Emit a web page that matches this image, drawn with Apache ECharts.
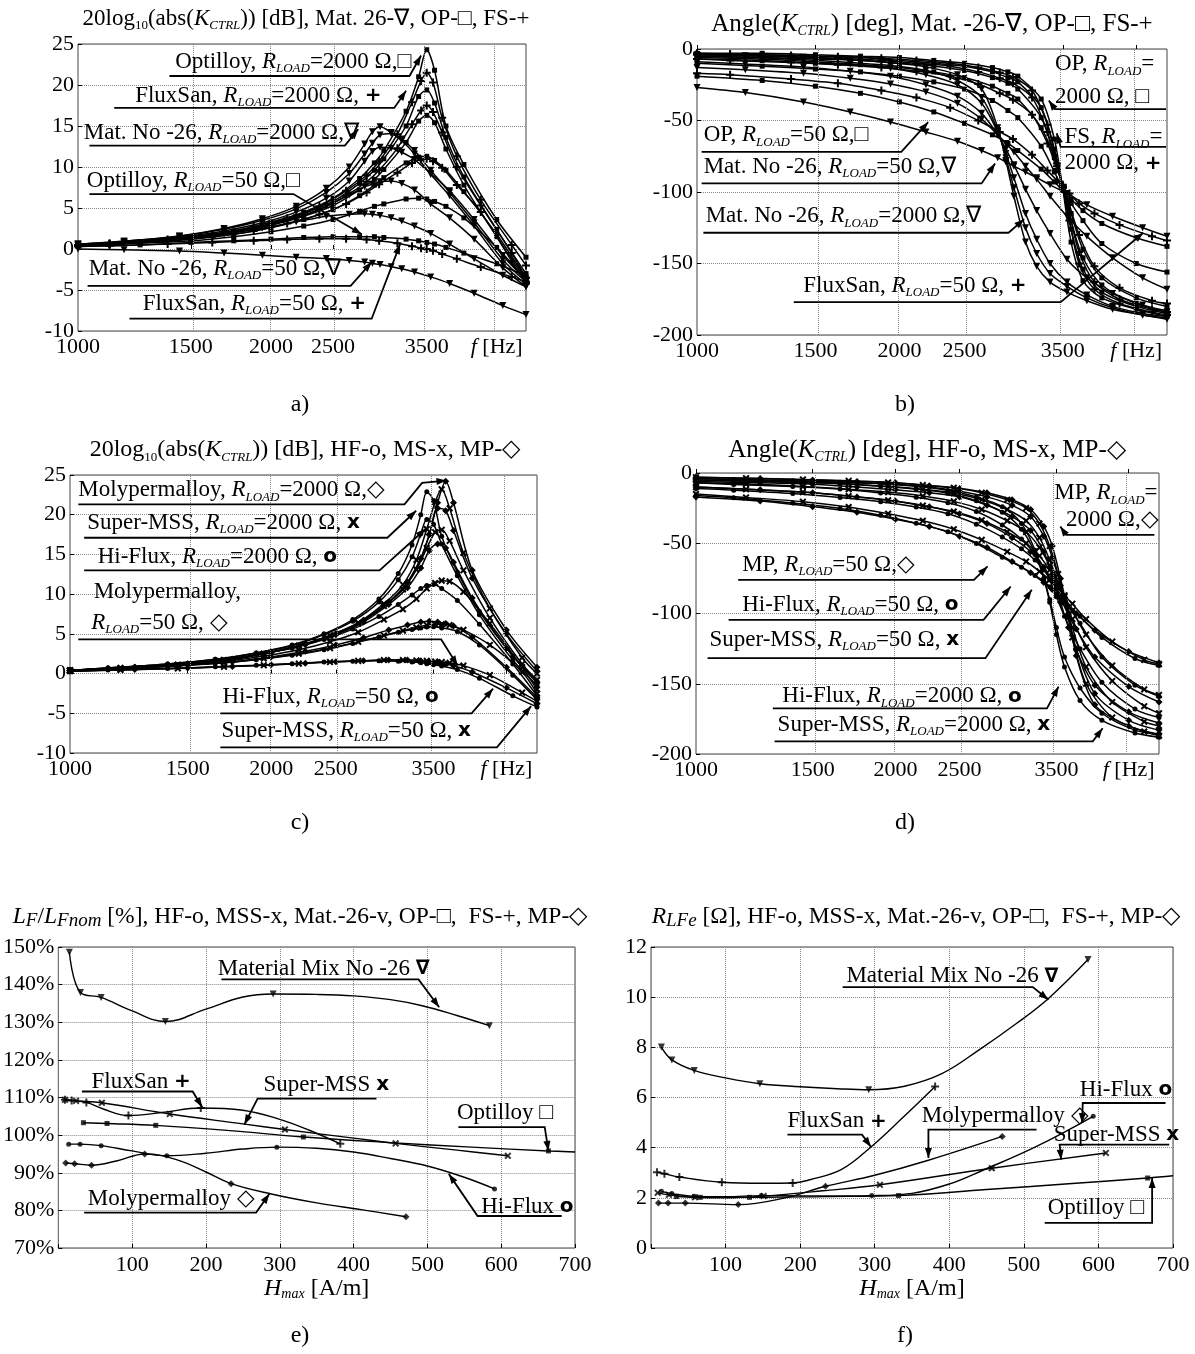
<!DOCTYPE html>
<html><head><meta charset="utf-8">
<script src="https://cdn.jsdelivr.net/npm/echarts@6/dist/echarts.min.js"></script>
<style>html,body{margin:0;padding:0;background:#fff}#c{width:1195px;height:1354px}</style>
</head><body><div id="c"></div>
<script>
// ---------------- DATA ----------------
// frequency points (Hz) at which each material's curves were read
const F_OP = [1000,1250,1500,1750,2000,2250,2500,2750,2900,3000,3250,3400,3500,3600,3750,4000,4500,5000];
const F_FS = [1000,1120,1380,1620,1880,2120,2380,2620,2820,2950,3150,3320,3430,3500,3580,3700,3900,4250,4750,5000];
const F_M26 = [1000,1180,1440,1690,1940,2190,2440,2650,2800,2880,2960,3080,3200,3350,3550,3800,4150,4600,5000];
const F_MP = [1000,1250,1500,1750,2000,2250,2500,2750,3000,3200,3350,3450,3550,3650,3750,4000,4500,5000];
const F_HF = [1000,1140,1400,1650,1900,2150,2400,2650,2900,3100,3250,3350,3420,3500,3600,3800,4100,4600,5000];
const F_MS = [1000,1190,1450,1700,1950,2200,2450,2700,2950,3150,3300,3420,3520,3600,3700,3880,4250,4750,5000];
const F_TICKS = [1000,1500,2000,2500,3500,4500];

// panel a: 20log10|K| [dB]
const A_OP2000 = [0.5,0.9,1.4,2.2,3.3,4.5,6.2,8.6,10.5,12,16.8,21,24.3,21.8,15,10.3,3.6,-1];
const A_OP_b = [0.5,0.9,1.4,2.1,3.1,4.3,5.8,8,9.6,11,15,18.6,19.4,17.8,13.6,8.8,2.4,-3];
const A_OP_c = [0.4,0.8,1.3,2,2.9,4,5.3,7.2,8.5,9.7,13,15.6,16.3,15.4,12.2,7.8,1.5,-3.8];
const A_OP_d = [0.4,0.8,1.2,1.8,2.6,3.6,4.8,6.5,7.8,8.7,10.5,11.2,11.3,10.8,9.6,7,1.8,-3.6];
const A_OP_e = [0.4,0.7,1,1.5,2.1,2.8,3.6,4.6,5.2,5.5,6.1,6.2,6.1,5.8,5.2,3.8,0.2,-3.8];
const A_OP50 = [0.3,0.5,0.8,1,1.2,1.4,1.5,1.5,1.5,1.4,1.2,1,0.8,0.6,0.2,-0.5,-1.8,-3.3];
const A_FS2000 = [0.5,0.7,1.15,1.8,2.7,3.75,5.2,7.1,9.0,10.7,14,17.9,20.5,21.5,20.3,16,11.3,6,0.5,-2];
const A_FS_b = [0.4,0.6,1.05,1.65,2.5,3.5,4.8,6.5,8.2,9.6,12.3,15.2,16.9,17.5,16.7,14.2,10,5.3,-0.5,-3.5];
const A_FS_d = [0.4,0.6,1.0,1.5,2.2,3.1,4.2,5.5,6.9,7.9,9.3,10.5,10.9,11,10.7,9.9,7.8,4.5,-1.5,-4.2];
const A_FS50 = [0.3,0.4,0.6,0.8,1.0,1.15,1.25,1.25,1.15,1.0,0.7,0.35,0.1,0,-0.2,-0.6,-1.2,-2.2,-3.4,-4];
const A_M2000 = [0.6,0.95,1.6,2.5,3.7,5.2,7.4,10,12.8,14.3,14.9,14.2,13.2,11.6,9.1,6.5,2.8,-1.8,-4.3];
const A_M_b = [0.6,0.95,1.55,2.4,3.5,4.9,6.9,9.2,11.6,12.9,13.9,14.1,13.4,12.0,9.6,6.9,3.2,-1.3,-4];
const A_M_c = [0.5,0.85,1.45,2.2,3.2,4.5,6.2,8.3,10.7,11.9,12.4,12.3,11.8,10.9,9.2,7.1,3.6,-0.8,-3.8];
const A_M_d = [0.5,0.8,1.3,1.95,2.8,3.8,5.2,6.6,7.6,7.9,8.2,8.3,8.0,7.2,5.5,3.8,1.2,-2.3,-4.6];
const A_M_e = [0.4,0.7,1.2,1.8,2.55,3.3,4.0,4.25,4.3,4.25,4.1,3.8,3.4,2.8,1.9,0.6,-1.2,-3.2,-4.6];
const A_M50 = [0,-0.1,-0.25,-0.5,-0.75,-1.0,-1.15,-1.4,-1.6,-1.75,-1.9,-2.15,-2.4,-2.8,-3.4,-4.2,-5.4,-6.9,-8];

// panel b: angle [deg]
const B_OP2000 = [-3,-3,-4,-5,-6,-8,-10,-13,-16,-19,-35,-63,-98,-135,-162,-174,-182,-187];
const B_OP_b = [-4,-4,-5,-6,-8,-10,-12,-16,-20,-23,-41,-70,-97,-126,-154,-170,-180,-185];
const B_OP_c = [-5,-6,-7,-8,-10,-12,-15,-20,-24,-28,-48,-75,-97,-120,-146,-165,-178,-183];
const B_OP_d = [-7,-8,-10,-11,-13,-16,-20,-26,-31,-35,-55,-76,-96,-115,-140,-160,-174,-180];
const B_OP_e = [-10,-12,-14,-16,-19,-23,-28,-36,-43,-48,-68,-86,-98,-108,-120,-136,-150,-156];
const B_OP50 = [-19,-22,-26,-31,-37,-44,-52,-60,-66,-71,-84,-93,-99,-105,-113,-122,-132,-138];
const B_FS2000 = [-3,-3.5,-4.5,-5.5,-6.5,-8,-10,-13,-16.5,-19.5,-29,-53,-80,-97,-120,-150,-168,-178,-184,-186];
const B_FS_b = [-4,-4.5,-5.5,-6.5,-8,-10,-12,-16,-20.5,-24,-34,-58,-82,-96,-115,-142,-163,-175,-182,-184];
const B_FS_d = [-7,-8,-9.5,-11,-13,-15.5,-19,-24.5,-31,-35.5,-46,-66,-84,-95,-109,-130,-152,-167,-176,-178];
const B_FS50 = [-17,-18,-21,-24,-29,-34,-41,-50,-58,-63,-74,-85,-92,-97,-101,-108,-115,-123,-131,-134];
const B_M2000 = [-4,-4.7,-5.8,-7.5,-9.5,-12.5,-18,-28,-55,-78,-103,-135,-152,-163,-170,-176,-182,-186,-189];
const B_M_b = [-5,-5.7,-7.5,-9.5,-11.5,-15,-22,-34,-57,-76,-97,-125,-143,-157,-166,-174,-181,-186,-188];
const B_M_c = [-6,-6.7,-8.5,-10.5,-13.5,-18,-25,-38,-58,-73,-90,-115,-133,-150,-163,-172,-180,-185,-187];
const B_M_d = [-9,-10.5,-12.5,-15.5,-19,-25,-33,-45,-60,-70,-81,-98,-113,-129,-147,-160,-171,-179,-184];
const B_M_e = [-13,-14.5,-17,-20.5,-24.5,-30,-38,-49,-60,-66,-72,-82,-91,-103,-117,-131,-146,-160,-168];
const B_M50 = [-27,-30.5,-37,-44,-51,-58,-64.5,-71,-76,-79,-82,-86,-90,-95,-101,-109,-117,-125,-131];

// panel c: 20log10|K| [dB]
const C_MP2000 = [0.4,0.8,1.2,1.8,2.7,3.7,5,6.7,9,11.5,14.5,17.5,21.5,24.2,21.5,13,5.5,0.8];
const C_MP_b = [0.4,0.8,1.2,1.8,2.7,3.7,5,6.7,9,11.5,14.5,17.5,20.8,20.5,18,12,5,0.3];
const C_MP_c = [0.4,0.8,1.2,1.8,2.7,3.7,4.9,6.5,8.7,10.8,13.3,15.5,16.3,15.8,14,9.5,3.2,-1.2];
const C_MP_d = [0.4,0.7,1.1,1.5,2.1,2.8,3.6,4.5,5.5,6.1,6.5,6.6,6.5,6.3,6,4.6,0.8,-3];
const C_MP50 = [0.3,0.5,0.7,0.9,1.1,1.3,1.5,1.6,1.7,1.7,1.6,1.5,1.4,1.2,1,0.2,-1.8,-3.8];
const C_MS2000 = [0.4,0.7,1.1,1.7,2.5,3.5,4.8,6.4,8.8,11.2,14.3,18.2,21.6,23.2,20.8,15.2,8.2,2,0];
const C_MS_b = [0.4,0.7,1.1,1.7,2.5,3.5,4.8,6.3,8.5,10.6,13.1,15.8,17.8,18.1,16.7,13,7,1.2,-0.8];
const C_MS_c = [0.4,0.65,1.0,1.5,2.2,3.0,4.0,5.2,6.8,8.1,9.4,10.7,11.4,11.7,11.6,10.3,6.3,0.8,-2];
const C_MS_d = [0.4,0.6,0.95,1.35,1.9,2.5,3.2,4.0,4.8,5.4,5.8,6.1,6.2,6.2,6.1,5.5,3.6,0.2,-2.5];
const C_MS50 = [0.3,0.45,0.65,0.85,1.05,1.25,1.45,1.6,1.7,1.7,1.65,1.6,1.5,1.45,1.35,1.0,-0.2,-2.4,-3.5];
const C_HF2000 = [0.4,0.7,1.2,1.8,2.6,3.6,5.0,6.8,9.4,12.6,16.2,20,22.9,21.8,17.3,12.8,7.8,2.2,-1];
const C_HF_b = [0.4,0.7,1.2,1.8,2.6,3.5,4.9,6.6,9.0,11.8,14.7,17.6,19.4,18.8,16.3,12.3,7.4,1.7,-1.5];
const C_HF_c = [0.4,0.7,1.1,1.65,2.4,3.2,4.3,5.6,7.2,8.7,9.9,10.7,11.1,11.2,10.7,9.2,6.2,1.2,-2.8];
const C_HF_d = [0.4,0.6,0.95,1.3,1.75,2.3,3.0,3.8,4.6,5.2,5.55,5.75,5.85,5.9,5.75,5.3,3.6,-0.2,-3.3];
const C_HF50 = [0.3,0.45,0.65,0.85,1.05,1.25,1.45,1.55,1.6,1.55,1.45,1.35,1.25,1.1,0.95,0.5,-0.6,-2.8,-4.2];

// panel d: angle [deg]
const D_MP2000 = [-3,-4,-5,-6,-7,-9,-11,-14,-19,-26,-38,-52,-75,-100,-130,-165,-180,-186];
const D_MP_b = [-4,-5,-6,-7,-8,-10,-13,-17,-23,-31,-45,-60,-80,-103,-125,-157,-176,-183];
const D_MP_c = [-6,-7,-8,-10,-12,-14,-17,-23,-31,-41,-56,-72,-92,-110,-126,-151,-170,-178];
const D_MP_d = [-10,-12,-14,-17,-20,-24,-29,-36,-46,-56,-67,-77,-89,-101,-111,-131,-152,-163];
const D_MP50 = [-17,-20,-24,-28,-33,-38,-45,-53,-63,-71,-78,-83,-89,-95,-100,-112,-127,-135];
const D_MS2000 = [-3,-3.7,-4.6,-5.6,-6.7,-8.6,-10.5,-14,-19,-25,-36,-52,-72,-90,-117,-150,-174,-184,-187];
const D_MS_b = [-5,-5.8,-6.8,-7.8,-9.6,-11.6,-14.4,-19,-26,-34,-46,-62,-78,-92,-110,-138,-163,-177,-180];
const D_MS_c = [-7,-7.8,-9.6,-11.6,-13.6,-16.4,-20.2,-26,-34,-42,-53,-66,-78,-90,-104,-124,-148,-166,-171];
const D_MS_d = [-10,-11.6,-13.6,-16.4,-19.4,-23.2,-27.4,-33.6,-42,-50,-59,-69,-79,-88,-98,-115,-137,-154,-158];
const D_MS50 = [-15,-17.4,-20.4,-24.2,-29,-34,-40,-47.6,-56,-63,-70,-76,-82,-87,-93,-104,-120,-133,-136];
const D_HF2000 = [-4,-4.6,-5.6,-6.6,-7.6,-9.5,-12.4,-17,-24,-36,-55,-75,-92,-115,-138,-162,-176,-185,-188];
const D_HF_b = [-5,-5.6,-6.6,-7.6,-9.4,-11.5,-14.4,-19.8,-28,-40,-57,-75,-90,-110,-131,-153,-171,-183,-186];
const D_HF_c = [-7,-8.2,-9.6,-11.4,-14.2,-17.2,-21.2,-27.4,-37,-47,-58,-67,-76,-88,-102,-125,-149,-168,-174];
const D_HF_d = [-11,-12.2,-14.6,-17.4,-20.4,-24.2,-29,-36.4,-45.6,-54,-62,-69,-75,-82,-91,-107,-131,-151,-159];
const D_HF50 = [-16,-17.6,-21.4,-25.2,-30,-35.8,-41.8,-50.2,-60,-67,-73,-77,-81,-86,-91,-102,-117,-132,-137];

// panel e: LF/LFnom [%] vs Hmax [A/m]; curve points and measured markers
const E_MAT26 = [[15,148.6],[30,137.9],[58,136.6],[100,133],[145,130.2],[200,133.5],[250,136.7],[291,137.5],[350,137.4],[400,137],[450,136],[493,134.4],[540,131.8],[584,129.1]];
const E_MAT26_M = [[15,148.6],[30,137.9],[58,136.6],[145,130.2],[291,137.5],[584,129.1]];
const E_FS = [[9,109.4],[18,109.2],[38,108.7],[60,107],[95,105.2],[140,106],[193,107.2],[250,106.6],[300,104.2],[340,101.3],[382,97.7]];
const E_FS_M = [[9,109.4],[18,109.2],[38,108.7],[95,105.2],[193,107.2],[382,97.7]];
const E_MSS = [[9,109.4],[24,109.1],[59,108.6],[151,105.6],[250,103],[307,101.5],[400,99.2],[457,97.8],[540,96],[609,94.5]];
const E_MSS_M = [[9,109.4],[24,109.1],[59,108.6],[151,105.6],[307,101.5],[457,97.8],[609,94.5]];
const E_OP = [[34,103.3],[66,103.1],[132,102.6],[232,101.2],[332,99.5],[450,98],[560,96.8],[664,95.8],[700,95.5]];
const E_OP_M = [[34,103.3],[66,103.1],[132,102.6],[332,99.5],[664,95.8]];
const E_HF = [[14,97.6],[29.5,97.6],[58,97.2],[100,95.8],[147,94.5],[200,95.2],[250,96.3],[296,96.8],[350,96.5],[400,95.5],[450,93.8],[500,91.8],[550,88.8],[591,85.7]];
const E_HF_M = [[14,97.6],[29.5,97.6],[58,97.2],[147,94.5],[296,96.8],[591,85.7]];
const E_MP = [[10,92.6],[22,92.4],[45,92],[80,93.2],[117,95],[160,93.5],[200,90.2],[234,87.1],[290,84.3],[350,82],[410,80.2],[471,78.3]];
const E_MP_M = [[10,92.6],[22,92.4],[45,92],[117,95],[234,87.1],[471,78.3]];

// panel f: RLFe [Ohm] vs Hmax [A/m]
const R_MAT26 = [[14,8.01],[28,7.5],[58,7.08],[100,6.78],[146,6.55],[200,6.43],[250,6.35],[292,6.31],[340,6.45],[390,6.95],[440,7.9],[490,8.95],[533,9.95],[586,11.5]];
const R_MAT26_M = [[14,8.01],[28,7.5],[58,7.08],[146,6.55],[292,6.31],[586,11.5]];
const R_FS = [[8,3.02],[18,2.96],[38,2.83],[95,2.62],[150,2.58],[190,2.59],[213,2.72],[255,3.12],[295,4.03],[337,5.18],[381,6.44]];
const R_FS_M = [[8,3.02],[18,2.96],[38,2.83],[95,2.62],[190,2.59],[381,6.44]];
const R_MP = [[10,1.79],[23,1.79],[46,1.79],[117,1.73],[180,2.0],[234,2.46],[300,2.9],[372,3.5],[471,4.45]];
const R_MP_M = [[10,1.79],[23,1.79],[46,1.79],[117,1.73],[234,2.46],[471,4.45]];
const R_HF = [[14,2.26],[28,2.17],[58,2.06],[100,2.05],[148,2.09],[200,2.08],[250,2.08],[296,2.09],[350,2.18],[400,2.55],[445,3.1],[517,4.05],[593,5.25]];
const R_HF_M = [[14,2.26],[28,2.17],[58,2.06],[148,2.09],[296,2.09],[593,5.25]];
const R_MSS = [[9,2.2],[24,2.12],[59,2.02],[100,2.0],[151,2.07],[230,2.28],[307,2.52],[457,3.18],[610,3.79]];
const R_MSS_M = [[9,2.2],[24,2.12],[59,2.02],[151,2.07],[307,2.52],[457,3.18],[610,3.79]];
const R_OP = [[34,2.05],[66,2.02],[132,2.02],[232,2.05],[332,2.09],[450,2.33],[560,2.56],[666,2.79],[700,2.88]];
const R_OP_M = [[34,2.05],[66,2.02],[132,2.02],[332,2.09],[666,2.79]];

// ---------------- STYLE / LAYOUT ----------------
const FONT = "'Liberation Serif','Times New Roman',serif";
const PLUS = 'path://M3,0h2v3h3v2h-3v3h-2v-3h-3v-2h3z';
const SYM = {
  OP:{symbol:'rect',size:5,rot:0}, FS:{symbol:PLUS,size:8,rot:0}, M26:{symbol:'triangle',size:7,rot:180},
  HF:{symbol:'circle',size:5,rot:0}, MS:{symbol:PLUS,size:8,rot:45}, MP:{symbol:'diamond',size:7,rot:0}
};
const GRIDS = [
  {left:78, top:44, width:448, height:287},
  {left:697, top:49, width:470, height:286},
  {left:70, top:475, width:467, height:278},
  {left:696, top:473, width:463, height:281},
  {left:55, top:947, width:520, height:301},
  {left:651, top:947, width:522, height:301}
];
const LBL = 22;
const GRIDLINE = {type:'dotted', color:'#888', width:1};

function freqLine(g, freqs, vals, mk){
  const s = SYM[mk];
  return {type:'line', xAxisIndex:g, yAxisIndex:g, data:freqs.map((f,i)=>[Math.log10(f), vals[i]]),
    smooth:0.3, symbol:s.symbol, symbolSize:s.size, symbolRotate:s.rot, showSymbol:true, silent:true,
    lineStyle:{color:'#000', width:1.5}, itemStyle:{color:'#000'}, animation:false, z:3};
}
function freqGridLines(g){
  return {type:'line', xAxisIndex:g, yAxisIndex:g, data:[[3, null]], symbol:'none', silent:true, animation:false, z:1,
    markLine:{silent:true, symbol:'none', animation:false, label:{show:false}, lineStyle:GRIDLINE,
      data:F_TICKS.slice(1).map(f=>({xAxis:Math.log10(f)}))}};
}
function hCurve(g, pts, marks, mk){
  const s = SYM[mk];
  return [
    {type:'line', xAxisIndex:g, yAxisIndex:g, data:pts, smooth:0.4, symbol:'none', silent:true,
     lineStyle:{color:'#000', width:1.4}, animation:false, z:3},
    {type:'scatter', xAxisIndex:g, yAxisIndex:g, data:marks, symbol:s.symbol, symbolSize:s.size, symbolRotate:s.rot,
     itemStyle:{color:'#000'}, silent:true, animation:false, z:4}
  ];
}
const labelRich = {
  i:{fontFamily:FONT, fontStyle:'italic', fontSize:LBL, color:'#000'},
  s:{fontFamily:FONT, fontStyle:'italic', fontSize:13, color:'#000', verticalAlign:'bottom', lineHeight:13},
  j:{fontFamily:FONT, fontStyle:'italic', fontSize:24, color:'#000'},
  t:{fontFamily:FONT, fontStyle:'italic', fontSize:14, color:'#000', verticalAlign:'bottom', lineHeight:14},
  n:{fontFamily:FONT, fontSize:24, color:'#000'}
};
function logX(g){
  const cv = F_TICKS.map(v=>Math.log10(v));
  return {type:'value', gridIndex:g, min:3, max:Math.log10(5000),
    axisLine:{show:false},
    axisTick:{show:true, inside:true, length:4, customValues:cv, lineStyle:{color:'#000'}},
    splitLine:{show:false},
    axisLabel:{customValues:cv, margin:5, fontFamily:FONT, fontSize:LBL, color:'#000', rich:labelRich,
      formatter:v=>{const f=Math.round(Math.pow(10,v)/10)*10; return f===4500 ? '{i|f} [Hz]' : String(f);}}};
}
function yAx(g, min, max, step, fmt){
  return {type:'value', gridIndex:g, min, max, interval:step,
    axisLine:{show:false},
    axisTick:{show:true, inside:true, length:4, lineStyle:{color:'#000'}},
    splitLine:{show:true, lineStyle:GRIDLINE},
    axisLabel:{margin:4, fontFamily:FONT, fontSize:LBL, color:'#000', formatter:fmt||'{value}'}};
}
function hX(g){
  return {type:'value', gridIndex:g, min:0, max:700, interval:100,
    axisLine:{show:false},
    axisTick:{show:true, inside:true, length:4, lineStyle:{color:'#000'}},
    splitLine:{show:true, lineStyle:GRIDLINE},
    axisLabel:{margin:6, fontFamily:FONT, fontSize:LBL, color:'#000', formatter:v=> v===0?'':String(v)},
    name:'{j|H}{t|max}{n| [A/m]}', nameLocation:'middle', nameGap:25,
    nameTextStyle:{fontFamily:FONT, fontSize:24, color:'#000', rich:labelRich}};
}

const series = [];
[0,1,2,3].forEach(g=>series.push(freqGridLines(g)));
[[F_OP,A_OP2000,'OP'],[F_OP,A_OP_b,'OP'],[F_OP,A_OP_c,'OP'],[F_OP,A_OP_d,'OP'],[F_OP,A_OP_e,'OP'],[F_OP,A_OP50,'OP'],
 [F_FS,A_FS2000,'FS'],[F_FS,A_FS_b,'FS'],[F_FS,A_FS_d,'FS'],[F_FS,A_FS50,'FS'],
 [F_M26,A_M2000,'M26'],[F_M26,A_M_b,'M26'],[F_M26,A_M_c,'M26'],[F_M26,A_M_d,'M26'],[F_M26,A_M_e,'M26'],[F_M26,A_M50,'M26']]
 .forEach(([f,v,m])=>series.push(freqLine(0,f,v,m)));
[[F_OP,B_OP2000,'OP'],[F_OP,B_OP_b,'OP'],[F_OP,B_OP_c,'OP'],[F_OP,B_OP_d,'OP'],[F_OP,B_OP_e,'OP'],[F_OP,B_OP50,'OP'],
 [F_FS,B_FS2000,'FS'],[F_FS,B_FS_b,'FS'],[F_FS,B_FS_d,'FS'],[F_FS,B_FS50,'FS'],
 [F_M26,B_M2000,'M26'],[F_M26,B_M_b,'M26'],[F_M26,B_M_c,'M26'],[F_M26,B_M_d,'M26'],[F_M26,B_M_e,'M26'],[F_M26,B_M50,'M26']]
 .forEach(([f,v,m])=>series.push(freqLine(1,f,v,m)));
[[F_MP,C_MP2000,'MP'],[F_MP,C_MP_b,'MP'],[F_MP,C_MP_c,'MP'],[F_MP,C_MP_d,'MP'],[F_MP,C_MP50,'MP'],
 [F_MS,C_MS2000,'MS'],[F_MS,C_MS_b,'MS'],[F_MS,C_MS_c,'MS'],[F_MS,C_MS_d,'MS'],[F_MS,C_MS50,'MS'],
 [F_HF,C_HF2000,'HF'],[F_HF,C_HF_b,'HF'],[F_HF,C_HF_c,'HF'],[F_HF,C_HF_d,'HF'],[F_HF,C_HF50,'HF']]
 .forEach(([f,v,m])=>series.push(freqLine(2,f,v,m)));
[[F_MP,D_MP2000,'MP'],[F_MP,D_MP_b,'MP'],[F_MP,D_MP_c,'MP'],[F_MP,D_MP_d,'MP'],[F_MP,D_MP50,'MP'],
 [F_MS,D_MS2000,'MS'],[F_MS,D_MS_b,'MS'],[F_MS,D_MS_c,'MS'],[F_MS,D_MS_d,'MS'],[F_MS,D_MS50,'MS'],
 [F_HF,D_HF2000,'HF'],[F_HF,D_HF_b,'HF'],[F_HF,D_HF_c,'HF'],[F_HF,D_HF_d,'HF'],[F_HF,D_HF50,'HF']]
 .forEach(([f,v,m])=>series.push(freqLine(3,f,v,m)));
series.push(...hCurve(4,E_MAT26,E_MAT26_M,'M26'), ...hCurve(4,E_FS,E_FS_M,'FS'), ...hCurve(4,E_MSS,E_MSS_M,'MS'),
  ...hCurve(4,E_OP,E_OP_M,'OP'), ...hCurve(4,E_HF,E_HF_M,'HF'), ...hCurve(4,E_MP,E_MP_M,'MP'));
series.push(...hCurve(5,R_MAT26,R_MAT26_M,'M26'), ...hCurve(5,R_FS,R_FS_M,'FS'), ...hCurve(5,R_MSS,R_MSS_M,'MS'),
  ...hCurve(5,R_OP,R_OP_M,'OP'), ...hCurve(5,R_HF,R_HF_M,'HF'), ...hCurve(5,R_MP,R_MP_M,'MP'));

const chart = echarts.init(document.getElementById('c'), null, {renderer:'canvas'});
chart.setOption({
  backgroundColor:'#fff', animation:false,
  grid: GRIDS.map(g=>Object.assign({show:true, borderColor:'#444', borderWidth:1, backgroundColor:'transparent', containLabel:false}, g)),
  xAxis:[logX(0), logX(1), logX(2), logX(3), hX(4), hX(5)],
  yAxis:[yAx(0,-10,25,5), yAx(1,-200,0,50), yAx(2,-10,25,5), yAx(3,-200,0,50),
         yAx(4,70,150,10,'{value}%'), yAx(5,0,12,2)],
  series
});

// ---------------- ANNOTATIONS (text anchors / leaders in data units) ----------------
const RL = '{i|R}{s|LOAD}';
const ANN = [
  {g:0, t:'Optilloy, '+RL+'=2000 Ω,□', at:[1418,22.8], ln:[[1389,21.1],[3290,21.1],[3430,23.6]]},
  {g:0, t:'FluxSan, '+RL+'=2000 Ω, {m|+}', at:[1228,18.7], ln:[[1139,17.2],[3115,17.2],[3250,19.3]]},
  {g:0, t:'Mat. No -26, '+RL+'=2000 Ω,∇', at:[1021,14.2], ln:[[1042,12.6],[2608,12.6],[2737,14.6]]},
  {g:0, t:'Optilloy, '+RL+'=50 Ω,□', at:[1032,8.3], ln:[[1042,6.7],[2168,6.7],[2772,1.8]]},
  {g:0, t:'Mat. No -26, '+RL+'=50 Ω,∇', at:[1039,-2.4], ln:[[1035,-4.5],[2663,-4.5],[2872,-1.6]]},
  {g:0, t:'FluxSan, '+RL+'=50 Ω, {m|+}', at:[1262,-6.7], ln:[[1203,-8.5],[2872,-8.5],[3181,0.6]]},

  {g:1, t:'OP, '+RL+'=', at:[3407,-10.8]},
  {g:1, t:'2000 Ω, □', at:[3407,-33.5]},
  {g:1, ln:[[4983,-42],[3407,-42],[3336,-36]]},
  {g:1, t:'FS, '+RL+'=', at:[3519,-61.6]},
  {g:1, t:'2000 Ω, {m|+}', at:[3519,-80]},
  {g:1, ln:[[4983,-68.5],[3474,-68.5],[3428,-59]]},
  {g:1, t:'OP, '+RL+'=50 Ω,□', at:[1023,-60.4], ln:[[1016,-72],[2013,-72],[2207,-51.2]]},
  {g:1, t:'Mat. No -26, '+RL+'=50 Ω,∇', at:[1023,-82.4], ln:[[1016,-94],[2650,-94],[2775,-80]]},
  {g:1, t:'Mat. No -26, '+RL+'=2000 Ω,∇', at:[1030,-117], ln:[[1022,-128.5],[2906,-128.5],[3066,-119]]},
  {g:1, t:'FluxSan, '+RL+'=50 Ω, {m|+}', at:[1439,-165.4], ln:[[1393,-177],[3474,-177],[4610,-128.5]]},

  {g:2, t:'Molypermalloy, '+RL+'=2000 Ω,◇', at:[1029,23.1], ln:[[1029,21.3],[3167,21.3],[3365,24],[3660,24.3]]},
  {g:2, t:'Super-MSS, '+RL+'=2000 Ω, {m|x}', at:[1061,19], ln:[[1050,17.1],[2985,17.1],[3297,20.5]]},
  {g:2, t:'Hi-Flux, '+RL+'=2000 Ω, {m|o}', at:[1100,14.7], ln:[[1050,13],[2906,13],[3405,18.2]]},
  {g:2, t:'Molypermalloy,', at:[1085,10.3]},
  {g:2, t:RL+'=50 Ω, ◇', at:[1076,6.4], ln:[[1029,4.3],[3594,4.3],[3804,1.0]]},
  {g:2, t:'Hi-Flux, '+RL+'=50 Ω, {m|o}', at:[1691,-2.9], ln:[[1679,-5],[3991,-5],[4297,-1.9]]},
  {g:2, t:'Super-MSS, '+RL+'=50 Ω, {m|x}', at:[1685,-7.2], ln:[[1679,-9.3],[4355,-9.3],[4900,-4.1]]},

  {g:3, t:'MP, '+RL+'=', at:[3475,-14.3]},
  {g:3, t:'2000 Ω,◇', at:[3620,-33.3]},
  {g:3, ln:[[4920,-44],[3620,-44],[3548,-38]]},
  {g:3, t:'MP, '+RL+'=50 Ω,◇', at:[1174,-65.3], ln:[[1158,-76],[2628,-76],[2755,-66.5]]},
  {g:3, t:'Hi-Flux, '+RL+'=50 Ω, {m|o}', at:[1174,-93.8], ln:[[1120,-104.5],[2717,-104.5],[2986,-80.8]]},
  {g:3, t:'Super-MSS, '+RL+'=50 Ω, {m|x}', at:[1048,-118.8], ln:[[1041,-131.8],[2735,-131.8],[3213,-83.1]]},
  {g:3, t:'Hi-Flux, '+RL+'=2000 Ω, {m|o}', at:[1350,-159], ln:[[1306,-167.5],[3387,-167.5],[3527,-152]]},
  {g:3, t:'Super-MSS, '+RL+'=2000 Ω, {m|x}', at:[1328,-179.3], ln:[[1314,-191],[3972,-191],[4110,-181.7]]},

  {g:4, t:'Material Mix No -26 {m|∇}', at:[216,144.2], ln:[[221,141.4],[488,141.4],[516,134]]},
  {g:4, t:'FluxSan {m|+}', at:[45,114.1], ln:[[32,111.6],[182,111.6],[195,107.4]]},
  {g:4, t:'Super-MSS {m|x}', at:[278,113.4], ln:[[431,109.7],[270,109.7],[252,102.8]]},
  {g:4, t:'Optilloy □', at:[540,105.9], ln:[[542,102.1],[659,102.1],[664,95.8]]},
  {g:4, t:'Molypermalloy ◇', at:[40,83.1], ln:[[35,79.4],[268,79.4],[286,84.4]]},
  {g:4, t:'Hi-Flux {m|o}', at:[573,80.9], ln:[[682,78.5],[568,78.5],[529,89.7]]},

  {g:5, t:'Material Mix No -26 {m|∇}', at:[262,10.83], ln:[[257,10.4],[512,10.4],[533,9.9]]},
  {g:5, t:'FluxSan {m|+}', at:[183,5.05], ln:[[183,4.52],[283,4.52],[295,4.03]]},
  {g:5, t:'Molypermalloy ◇', at:[363,5.25], ln:[[517,4.72],[372,4.72],[372,3.59]]},
  {g:5, t:'Hi-Flux {m|o}', at:[575,6.29], ln:[[690,5.78],[579,5.78],[578,4.98]]},
  {g:5, t:'Super-MSS {m|x}', at:[540,4.52], ln:[[695,4.12],[548,4.12],[550,3.52]]},
  {g:5, t:'Optilloy □', at:[532,1.59], ln:[[528,1.0],[672,1.0],[672,2.79]]}
];

function zrRich(size){
  const sub = Math.round(size*0.56);
  return {
    i:{fontFamily:FONT, fontStyle:'italic', fontSize:size, fill:'#000', lineHeight:size+4},
    s:{fontFamily:FONT, fontStyle:'italic', fontSize:sub, fill:'#000', verticalAlign:'bottom', lineHeight:sub},
    n:{fontFamily:FONT, fontSize:sub, fill:'#000', verticalAlign:'bottom', lineHeight:sub},
    f:{fontFamily:FONT, fontStyle:'italic', fontSize:Math.round(size*0.8), fill:'#000', verticalAlign:'bottom', lineHeight:Math.round(size*0.8)},
    m:{fontFamily:"'DejaVu Sans',sans-serif", fontWeight:'bold', fontSize:size-3, fill:'#000', lineHeight:size+4}
  };
}
function txt(x, y, text, size, align){
  return {type:'text', x, y, z:20, silent:true,
    style:{text, rich:zrRich(size), fontFamily:FONT, fontSize:size, lineHeight:size+4, fill:'#000',
      align:align||'left', textAlign:align||'left', verticalAlign:'middle', textVerticalAlign:'middle'}};
}
function px(g, x, y){ return chart.convertToPixel({gridIndex:g}, [g<4 ? Math.log10(x) : x, y]); }

const els = [];
// titles
els.push(txt(306, 19, '20log{n|10}(abs({i|K}{s|CTRL})) [dB], Mat. 26-∇, OP-□, FS-+', 23, 'center'));
els.push(txt(932, 24, 'Angle({i|K}{s|CTRL}) [deg], Mat. -26-∇, OP-□, FS-+', 25, 'center'));
els.push(txt(305, 450, '20log{n|10}(abs({i|K}{s|CTRL})) [dB], HF-o, MS-x, MP-◇', 24, 'center'));
els.push(txt(927, 450, 'Angle({i|K}{s|CTRL}) [deg], HF-o, MS-x, MP-◇', 25, 'center'));
els.push(txt(300, 917, '{i|L}{f|F}/{i|L}{f|Fnom} [%], HF-o, MSS-x, Mat.-26-v, OP-□,  FS-+, MP-◇', 23.5, 'center'));
els.push(txt(916, 917, '{i|R}{f|LFe} [Ω], HF-o, MSS-x, Mat.-26-v, OP-□,  FS-+, MP-◇', 23.5, 'center'));
// panel letters
[['a)',300,405],['b)',905,405],['c)',300,823],['d)',905,823],['e)',300,1336],['f)',905,1336]]
  .forEach(([t,x,y])=>els.push(txt(x,y,t,24,'center')));
// annotations
ANN.forEach(a=>{
  if (a.t){ const p = px(a.g, a.at[0], a.at[1]); els.push(txt(p[0], p[1], a.t, 23, 'left')); }
  if (a.ln){
    const pts = a.ln.map(q=>px(a.g, q[0], q[1]));
    els.push({type:'polyline', z:20, silent:true, shape:{points:pts}, style:{stroke:'#000', lineWidth:1.8, fill:null}});
    const [x1,y1] = pts[pts.length-2], [x2,y2] = pts[pts.length-1];
    const ang = Math.atan2(y2-y1, x2-x1), L = 10, W = 3.5;
    const bx = x2 - L*Math.cos(ang), by = y2 - L*Math.sin(ang);
    els.push({type:'polygon', z:20, silent:true, shape:{points:[[x2,y2],[bx+W*Math.sin(ang), by-W*Math.cos(ang)],[bx-W*Math.sin(ang), by+W*Math.cos(ang)]]}, style:{fill:'#000'}});
  }
});
chart.setOption({graphic:{elements:els}});
</script></body></html>
